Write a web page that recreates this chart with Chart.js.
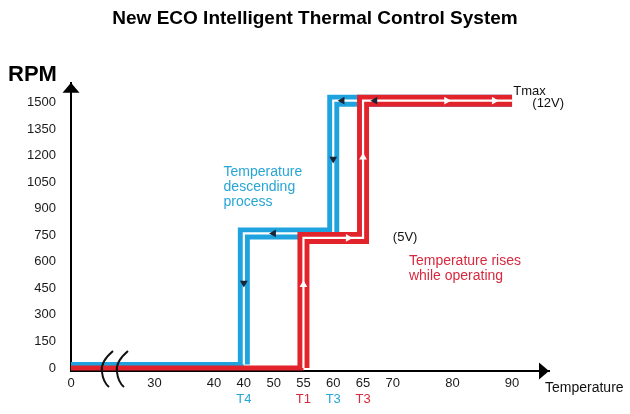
<!DOCTYPE html>
<html>
<head>
<meta charset="utf-8">
<title>New ECO Intelligent Thermal Control System</title>
<script src="https://cdn.jsdelivr.net/npm/chart.js@4.4.1/dist/chart.umd.min.js"></script>
<style>
  html, body { margin: 0; padding: 0; background: #fff; }
  #wrap { width: 630px; height: 414px; }
</style>
</head>
<body>
<div id="wrap"><canvas id="fanChart" width="630" height="414"></canvas></div>
<script>
// x axis ticks and the text printed under them (the second "40" sits where 45 would be)
const xTickTemps = [0, 30, 40, 45, 50, 55, 60, 65, 70, 80, 90];
const xTickLabels = ["0", "30", "40", "40", "50", "55", "60", "65", "70", "80", "90"];
const rpmTicks = [0, 150, 300, 450, 600, 750, 900, 1050, 1200, 1350, 1500];

// switching points named under the axis
const descMarkTemps = [45, 60];
const descMarkNames = ["T4", "T3"];
const riseMarkTemps = [55, 65];
const riseMarkNames = ["T1", "T3"];

// cooling path (blue), from Tmax back down to 0
const descTemps = [90, 60, 60, 45, 45, 0];
const descRpm = [1510, 1510, 760, 760, 20, 20];
// heating path (red)
const riseTemps = [0, 55, 55, 65, 65, 90];
const riseRpm = [0, 0, 735, 735, 1510, 1510];

// little direction arrows along each path
const descArrowTemps = [67, 61.5, 60, 50, 45];
const descArrowRpm = [1510, 1510, 1180, 760, 480];
const riseArrowTemps = [55, 62.5, 65, 79, 87];
const riseArrowRpm = [470, 735, 1190, 1510, 1510];

const BLUE = "#1fa3de", RED = "#e2232c", NAVY = "#1b2434";
const BLUE_TXT = "#27a5d6", RED_TXT = "#d6283e";
const FONT = "'Liberation Sans', Arial, Helvetica, sans-serif";

// axis is broken between 0 and 30, that stretch gets squeezed
const brk = t => t >= 30 ? t : 16 + t * 14 / 30;
const pts = (ts, vs) => ts.map((t, i) => ({ x: brk(t), y: vs[i] }));
const markTemps = descMarkTemps.concat(riseMarkTemps);
const markNames = descMarkNames.concat(riseMarkNames);

const decor = {
  id: "decor",
  afterDraw(chart) {
    const { ctx, chartArea: a, scales: { x, y } } = chart;
    const px = t => x.getPixelForValue(brk(t));
    const py = v => y.getPixelForValue(v);
    ctx.save();

    // axis arrowheads
    ctx.fillStyle = "#000";
    ctx.beginPath();
    ctx.moveTo(a.left, a.top);
    ctx.lineTo(a.left - 8.5, a.top + 10);
    ctx.lineTo(a.left + 8.5, a.top + 10);
    ctx.fill();
    ctx.beginPath();
    ctx.moveTo(a.right, a.bottom);
    ctx.lineTo(a.right - 10, a.bottom - 8.5);
    ctx.lineTo(a.right - 10, a.bottom + 8.5);
    ctx.fill();

    // break marks
    ctx.strokeStyle = "#111";
    ctx.lineWidth = 2;
    [0, 15].forEach(dx => {
      const bx = a.left + 42 + dx;
      ctx.beginPath();
      ctx.moveTo(bx, a.bottom - 20);
      ctx.quadraticCurveTo(bx - 13, a.bottom - 9, bx - 11, a.bottom + 1);
      ctx.quadraticCurveTo(bx - 10, a.bottom + 11, bx - 4, a.bottom + 16);
      ctx.stroke();
    });

    ctx.textAlign = "left";
    ctx.textBaseline = "middle";
    ctx.font = "14px " + FONT;
    ctx.fillStyle = BLUE_TXT;
    ["Temperature", "descending", "process"].forEach((s, i) => ctx.fillText(s, px(41.6), py(1105) + i * 15));
    ctx.fillStyle = RED_TXT;
    ["Temperature rises", "while operating"].forEach((s, i) => ctx.fillText(s, px(72.7), py(605) + i * 15));

    ctx.fillStyle = "#111";
    ctx.font = "13px " + FONT;
    ctx.fillText("(5V)", px(70), py(740));
    ctx.fillText("Tmax", px(90.2), py(1560));
    ctx.fillText("(12V)", px(93.4), py(1493));
    ctx.font = "14px " + FONT;
    ctx.fillText("Temperature", a.right - 4, a.bottom + 17);

    ctx.fillStyle = "#000";
    ctx.font = "bold 22px " + FONT;
    ctx.textBaseline = "alphabetic";
    ctx.fillText("RPM", 8, 81);
    ctx.restore();
  }
};

const tickFont = { family: FONT, size: 13 };

new Chart(document.getElementById("fanChart"), {
  type: "line",
  data: {
    datasets: [
      { data: pts(descTemps, descRpm), borderColor: BLUE, borderWidth: 12, order: 6,
        segment: { borderWidth: c => c.p0DataIndex === 4 ? 5 : 12 } },
      { data: pts(descTemps, descRpm), borderColor: "#fff", borderWidth: 2.2, order: 5,
        segment: { borderColor: c => c.p0DataIndex === 4 ? "rgba(0,0,0,0)" : "#fff" } },
      { data: pts(riseTemps, riseRpm), borderColor: RED, borderWidth: 12, order: 4,
        segment: { borderWidth: c => c.p0DataIndex === 0 ? 5 : 12 } },
      { data: pts(riseTemps, riseRpm), borderColor: "#fff", borderWidth: 2.2, order: 3,
        segment: { borderColor: c => c.p0DataIndex === 0 ? "rgba(0,0,0,0)" : "#fff" } },
      { type: "scatter", data: pts(descArrowTemps, descArrowRpm), order: 2,
        pointStyle: "triangle", pointRotation: [270, 270, 180, 270, 180],
        pointRadius: 4.5, backgroundColor: NAVY, borderWidth: 0 },
      { type: "scatter", data: pts(riseArrowTemps, riseArrowRpm), order: 1,
        pointStyle: "triangle", pointRotation: [0, 90, 0, 90, 90],
        pointRadius: 4.5, backgroundColor: "#fff", borderWidth: 0 }
    ]
  },
  options: {
    responsive: false,
    animation: false,
    elements: {
      point: { radius: 0 },
      line: { tension: 0, fill: false, borderJoinStyle: "miter", borderCapStyle: "butt" }
    },
    plugins: {
      legend: { display: false },
      tooltip: { enabled: false },
      title: {
        display: true,
        text: "New ECO Intelligent Thermal Control System",
        color: "#000",
        font: { family: FONT, size: 19, weight: "bold" },
        padding: { top: 7, bottom: 53 }
      }
    },
    scales: {
      x: {
        type: "linear", position: "bottom", min: brk(0), max: 96.2,
        grid: { display: false, drawTicks: false },
        border: { display: true, color: "#000", width: 2 },
        afterBuildTicks: s => { s.ticks = xTickTemps.map(t => ({ value: brk(t) })); },
        afterFit: s => { s.height = 18; },
        ticks: { autoSkip: false, maxRotation: 0, padding: 5, color: "#1a1a1a", font: tickFont,
          callback: (v, i) => xTickLabels[i] }
      },
      x2: {
        type: "linear", position: "bottom", weight: 1, min: brk(0), max: 96.2,
        grid: { display: false, drawTicks: false },
        border: { display: false },
        afterBuildTicks: s => { s.ticks = markTemps.map(t => ({ value: brk(t) })); },
        afterFit: s => { s.height = 25; },
        ticks: { autoSkip: false, maxRotation: 0, padding: 3, font: tickFont,
          color: c => descMarkTemps.map(brk).includes(c.tick.value) ? BLUE_TXT : RED_TXT,
          callback: (v, i) => markNames[i] }
      },
      y: {
        type: "linear", position: "left", min: -17, max: 1611,
        grid: { display: false, drawTicks: false },
        border: { display: true, color: "#000", width: 2 },
        afterBuildTicks: s => { s.ticks = rpmTicks.map(v => ({ value: v })); },
        afterFit: s => { s.width = 71; },
        ticks: { padding: 15, color: "#1a1a1a", font: tickFont, callback: v => String(v) }
      },
      yR: {
        type: "linear", position: "right", min: 0, max: 1,
        grid: { display: false, drawTicks: false },
        border: { display: false },
        ticks: { display: false },
        afterFit: s => { s.width = 81; }
      }
    }
  },
  plugins: [decor]
});
</script>
</body>
</html>
